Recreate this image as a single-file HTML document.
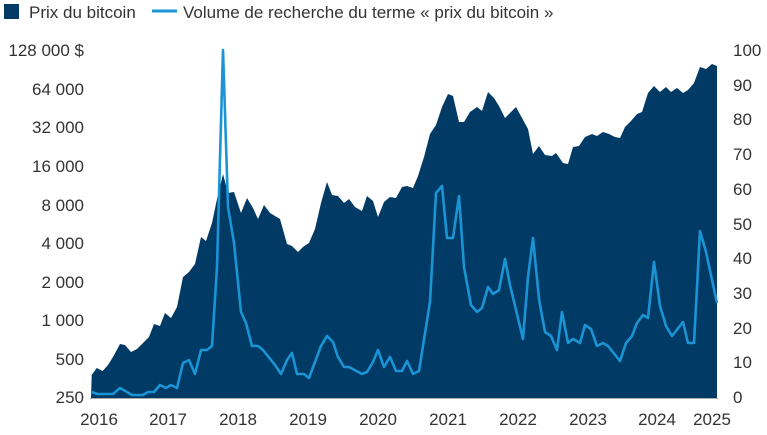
<!DOCTYPE html>
<html><head><meta charset="utf-8"><style>
html,body{margin:0;padding:0;background:#fff;}
svg text{font-family:"Liberation Sans",sans-serif;fill:#333;font-size:17px;}
</style></head><body>
<svg width="767" height="430" viewBox="0 0 767 430" xmlns="http://www.w3.org/2000/svg">
<rect x="4" y="4" width="15" height="15" fill="#023a66"/>
<text x="29" y="18">Prix du bitcoin</text>
<line x1="152" y1="11" x2="177" y2="11" stroke="#1a94d4" stroke-width="3"/>
<text x="183" y="18">Volume de recherche du terme « prix du bitcoin »</text>
<g text-anchor="end">
<text x="84" y="56">128 000 $</text>
<text x="84" y="95">64 000</text>
<text x="84" y="133">32 000</text>
<text x="84" y="172">16 000</text>
<text x="84" y="211">8 000</text>
<text x="84" y="249">4 000</text>
<text x="84" y="288">2 000</text>
<text x="84" y="326">1 000</text>
<text x="84" y="365">500</text>
<text x="84" y="403">250</text>
</g>
<g text-anchor="start">
<text x="733" y="56">100</text>
<text x="733" y="91">90</text>
<text x="733" y="125">80</text>
<text x="733" y="160">70</text>
<text x="733" y="195">60</text>
<text x="733" y="230">50</text>
<text x="733" y="264">40</text>
<text x="733" y="299">30</text>
<text x="733" y="334">20</text>
<text x="733" y="368">10</text>
<text x="733" y="403">0</text>
</g>
<g text-anchor="middle">
<text x="99" y="425">2016</text><text x="168" y="425">2017</text><text x="238" y="425">2018</text><text x="308" y="425">2019</text><text x="378" y="425">2020</text><text x="448" y="425">2021</text><text x="518" y="425">2022</text><text x="588" y="425">2023</text><text x="657" y="425">2024</text><text x="712" y="425">2025</text>
</g>
<polygon fill="#023a66" points="91,398 91.7,375 96.7,368 102.7,371 108,365 113,357 120,344 125,345 131,352 137,349 143,343 149,337 154,324 160,326 165,313 171,318 177,307 183,277 189,272 195,264 201,237 206,241 212,223 217,199 223,174 228,193 234,192 241,213 247,198 253,208 258,219 264,205 270,213 280,219 287,244 292,246 298,252 303,247 309,243 315,229 321,203 327,182 332,195 338,196 344,203 349,199 355,207 362,211 367,196 373,201 378,217 384,202 390,197 396,198 402,187 407,186 413,188 418,176 424,157 430,134 436,125 442,107 448,94 453,96 459,122 464,122 470,112 477,107 482,111 488,92 494,98 499,106 505,118 510,113 516,107 522,118 528,129 533,154 539,146 545,155 552,156 556,153 563,163 568,164 573,147 579,146 585,137 592,134 597,136 603,132 609,134 615,137 620,138 625,127 631,121 637,114 642,112 648,93 654,86 660,92 666,87 671,92 677,88 683,93 688,90 694,83 700,67 706,69 712,64 717,66 717,398"/>
<line x1="90" y1="398.5" x2="718" y2="398.5" stroke="#aaa" stroke-width="1"/>
<polyline fill="none" stroke="#1a94d4" stroke-width="2.6" stroke-linejoin="round" points="92,392 97,394 113,394 120,388 132,395 143,395 148,392 154,392 160,385 166,388 171,385 177,388 183,363 189,360 195,374 201,350 207,350 212,346 217,267 223,50 228,207 234,243 241,312 246,323 252,346 258,346 263,350 275,365 281,374 287,360 292,353 297,374 304,374 309,378 321,346 327,336 333,342 338,357 344,367 349,367 362,374 367,372 373,362 378,350 384,367 390,357 396,371 402,371 407,361 413,374 419,371 430,302 436,193 442,186 447,238 453,238 459,196 464,267 471,305 477,312 482,308 488,287 493,294 499,290 505,259 510,285 516,310 523,339 528,277 533,238 539,299 545,332 551,336 557,350 562,312 568,343 573,339 580,343 585,325 591,329 597,346 603,343 608,346 620,361 626,343 632,336 637,323 643,315 648,318 654,262 660,306 666,326 672,336 683,322 688,343 694,343 700,231 706,252 717,303"/>
</svg>
</body></html>
